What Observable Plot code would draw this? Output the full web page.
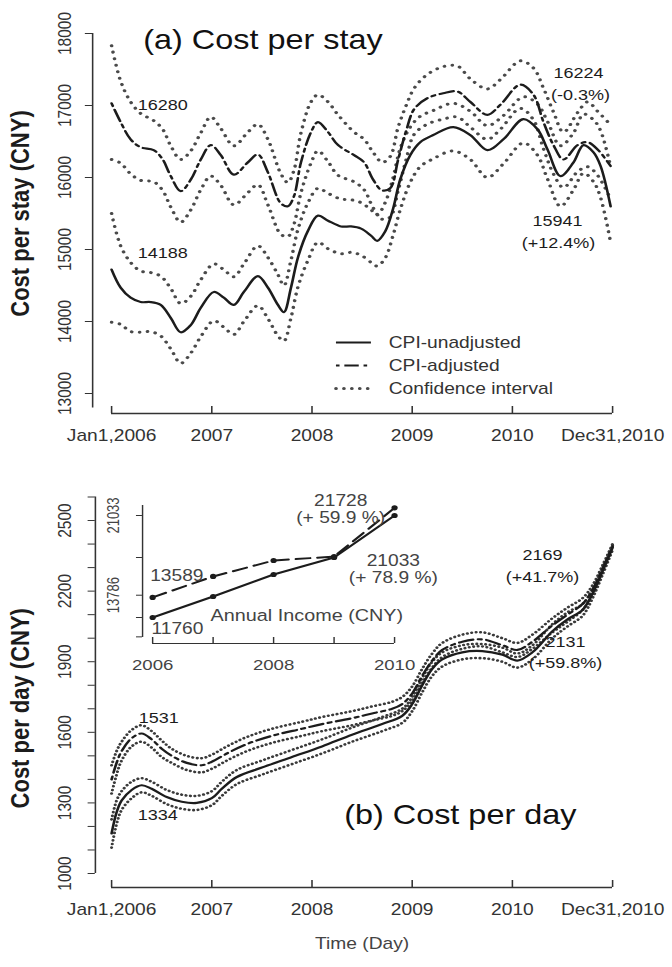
<!DOCTYPE html>
<html><head><meta charset="utf-8">
<script src="https://cdn.jsdelivr.net/npm/d3@7"></script>
<script src="https://cdn.jsdelivr.net/npm/@observablehq/plot@0.6"></script>
<style>
html,body{margin:0;padding:0;background:#fff;}
#chart{position:relative;width:672px;height:967px;overflow:hidden;background:#fff;}
</style></head><body><div id="chart"></div>
<script>
const FONT = '"Liberation Sans", Arial, Helvetica, sans-serif';
const SX = 1.2, W = 560, H = 967;
const INK = "#1c1c1c", AX = "#333";

// ---- shared x axis ----
const yearTicks = [2006, 2007, 2008, 2009, 2010, 2011];
const yearLabels = ["Jan1,2006", "2007", "2008", "2009", "2010", "Dec31,2010"];
const legendLabels = ["CPI-unadjusted", "CPI-adjusted", "Confidence interval"];

// ---- (a) Cost per stay ----
const stayTicks = [13000, 14000, 15000, 16000, 17000, 18000];
const adjStayT = [2006.00,2006.09,2006.19,2006.29,2006.42,2006.51,2006.59,2006.69,2006.79,2006.89,2006.99,
  2007.09,2007.22,2007.36,2007.46,2007.56,2007.69,2007.76,2007.82,2007.89,2007.99,
  2008.06,2008.16,2008.26,2008.42,2008.52,2008.61,2008.70,2008.78,2008.86,2008.94,
  2009.02,2009.15,2009.31,2009.45,2009.58,2009.75,2009.88,
  2010.08,2010.21,2010.31,2010.41,2010.51,2010.65,2010.75,2010.85,2010.98];
const adjStay = [17030,16770,16530,16420,16380,16250,16020,15810,15970,16250,16450,
  16310,16040,16210,16320,16070,15640,15600,15740,16210,16630,
  16770,16630,16450,16310,16210,15970,15820,15850,16250,16650,
  16950,17100,17170,17195,17050,16870,17010,
  17290,17150,16770,16450,16250,16450,16490,16390,16160];
const adjStayHi = [17830,17340,17050,16890,16790,16670,16440,16250,16370,16620,16840,
  16680,16440,16630,16740,16530,16050,15930,16100,16620,17050,
  17150,17050,16870,16630,16530,16350,16210,16290,16700,17000,
  17240,17430,17540,17550,17370,17230,17360,
  17620,17520,17240,16910,16630,16900,17050,16920,16730];
const adjStayLo = [16250,16200,16050,15960,15940,15820,15590,15380,15550,15830,16020,
  15890,15620,15790,15900,15620,15210,15180,15350,15790,16200,
  16370,16220,16030,15940,15830,15580,15420,15450,15820,16250,
  16600,16740,16810,16840,16700,16530,16670,
  16960,16800,16400,16050,15860,16080,16150,16030,15700];
const rawStayT = [2006.00,2006.09,2006.19,2006.29,2006.39,2006.49,2006.59,2006.69,2006.79,2006.89,
  2007.02,2007.12,2007.22,2007.32,2007.46,2007.56,2007.66,2007.72,2007.79,2007.86,2007.96,
  2008.06,2008.16,2008.29,2008.39,2008.49,2008.59,2008.65,2008.73,2008.81,2008.88,2008.98,
  2009.08,2009.21,2009.41,2009.58,2009.75,2009.91,
  2010.11,2010.25,2010.35,2010.48,2010.61,2010.71,2010.81,2010.88,2010.98];
const rawStay = [14720,14470,14330,14270,14270,14230,14050,13850,13950,14190,
  14410,14330,14230,14410,14630,14470,14230,14130,14470,14890,15260,
  15470,15400,15320,15320,15290,15190,15120,15250,15570,15970,16310,
  16490,16590,16700,16590,16380,16530,
  16810,16670,16390,16020,16210,16450,16350,16160,15600];
const rawStayHi = [15500,15050,14820,14700,14680,14630,14460,14250,14350,14580,
  14800,14720,14620,14800,15050,14890,14650,14500,14850,15280,15650,
  15850,15780,15700,15690,15650,15550,15480,15650,16000,16400,16700,
  16850,16930,17030,16920,16720,16860,
  17120,17020,16780,16440,16620,16880,16800,16650,16150];
const rawStayLo = [13990,13960,13860,13850,13860,13800,13620,13420,13560,13790,
  14010,13920,13820,14000,14220,14040,13800,13730,14050,14480,14850,
  15100,15010,14940,14960,14920,14820,14770,14880,15200,15550,15930,
  16150,16260,16370,16250,16000,16190,
  16480,16310,15980,15600,15830,16060,15940,15720,15100];

// ---- (b) Cost per day ----
const dayTicks = [1000,1100,1200,1300,1400,1500,1600,1700,1800,1900,2000,2100,2200,2300,2400,2500,2600];
const dayTickLabels = [1000, 1300, 1600, 1900, 2200, 2500];
const adjDayT = [2006,2006.05,2006.1,2006.2,2006.3,2006.4,2006.5,2006.6,2006.75,2006.9,2007,2007.15,2007.35,2007.6,2007.9,
  2008.1,2008.4,2008.6,2008.8,2008.9,2009,2009.1,2009.2,2009.3,2009.5,2009.7,2009.9,2010.05,2010.2,2010.4,2010.55,2010.7,2010.8,2010.9,2011];
const adjDay = [1400,1470,1520,1575,1595,1570,1530,1500,1470,1460,1475,1510,1550,1585,1615,1635,1660,1680,1700,1720,
  1765,1840,1905,1950,1985,1995,1970,1950,1985,2055,2100,2145,2205,2295,2390];
const adjDayHi = [1460,1520,1560,1610,1630,1605,1565,1530,1500,1490,1505,1540,1580,1615,1645,1665,1690,1710,1730,1750,
  1795,1870,1935,1980,2015,2025,2000,1980,2015,2085,2130,2170,2225,2310,2400];
const adjDayLo = [1340,1420,1480,1540,1560,1535,1495,1470,1440,1430,1445,1480,1520,1555,1585,1605,1630,1650,1670,1690,
  1735,1810,1875,1920,1955,1965,1940,1920,1955,2025,2070,2120,2185,2280,2380];
const rawDayT = [2006,2006.05,2006.1,2006.2,2006.3,2006.4,2006.55,2006.7,2006.85,2007,2007.1,2007.25,2007.5,2007.8,
  2008.1,2008.4,2008.7,2008.9,2009,2009.1,2009.2,2009.3,2009.5,2009.7,2009.9,2010.05,2010.2,2010.4,2010.55,2010.7,2010.8,2010.9,2011];
const rawDay = [1170,1260,1310,1355,1375,1360,1325,1305,1300,1320,1360,1410,1450,1495,1540,1590,1635,1670,1720,1800,
  1870,1910,1940,1945,1930,1905,1940,2030,2080,2120,2190,2285,2385];
const rawDayHi = [1230,1310,1350,1390,1405,1390,1355,1335,1330,1350,1390,1440,1480,1525,1570,1620,1665,1700,1750,1830,
  1900,1940,1970,1975,1960,1935,1970,2060,2110,2145,2210,2300,2395];
const rawDayLo = [1110,1210,1270,1320,1345,1330,1295,1275,1270,1290,1330,1380,1420,1465,1510,1560,1605,1640,1690,1770,
  1840,1880,1910,1915,1900,1875,1910,2000,2050,2095,2170,2270,2375];

// ---- inset: annual income ----
const incomeYears = [2006, 2007, 2008, 2009, 2010];
const incomeYearLabels = [2006, 2008, 2010];
const incomeA = [13589, 15490, 16940, 17300, 21728];
const incomeB = [11760, 13670, 15670, 17215, 21033];
const incomeTicks = [10000, 11760, 13786, 17215, 21033];
const incomeTickLabels = [13786, 21033];

// ---- helpers ----
const zip = (T, V) => T.map((t, i) => ({t, v: V[i]}));
const solid = {stroke: INK, strokeWidth: 2.2};
const dashed = {stroke: INK, strokeWidth: 2.2, strokeDasharray: "3,4,12,4"};
const dotted = {stroke: "#4a4a4a", strokeWidth: 3, strokeDasharray: "0.1,6.5", strokeLinecap: "round"};
const dottedDense = {stroke: "#3a3a3a", strokeWidth: 2.6, strokeDasharray: "0.1,3.6", strokeLinecap: "round"};
const line = (T, V, st) => Plot.line(zip(T, V), {x: "t", y: "v", curve: "catmull-rom", ...st});
const label = (s, x, y, o = {}) => Plot.text([s], {x: [x], y: [y], text: [s], fontSize: 15, fill: INK, textAnchor: "middle", lineAnchor: "middle", ...o});
const ctr = {textAnchor: "middle", lineAnchor: "middle"};

function place(svg) {
  const w = +svg.getAttribute("width"), h = +svg.getAttribute("height");
  svg.setAttribute("viewBox", `0 0 ${w} ${h}`);
  svg.setAttribute("preserveAspectRatio", "none");
  svg.setAttribute("width", w * SX);
  svg.setAttribute("style", `position:absolute;left:0;top:0;width:${w * SX}px;height:${h}px;max-width:none;background:transparent;overflow:visible;font-family:${FONT};`);
  document.getElementById("chart").appendChild(svg);
}

// ---- panel (a) ----
place(Plot.plot({
  width: W, height: H, marginLeft: 92.5, marginRight: 50, marginTop: 33, marginBottom: 554,
  x: {domain: [2006, 2011], axis: null},
  y: {domain: [12722, 18000]},
  marks: [
    Plot.ruleX([2006], {y1: 12800, y2: 18000, dx: -15.8, stroke: AX, strokeWidth: 1.3}),
    Plot.axisY({ticks: stayTicks, tickSize: 6, tickFormat: () => "", dx: -15.8, label: null, stroke: AX}),
    Plot.text(stayTicks, {y: d => d, text: d => String(d), frameAnchor: "left", dx: -38.5, rotate: -90, fontSize: 15.5, fill: AX, ...ctr}),
    Plot.ruleY([12722], {x1: 2006, x2: 2011, stroke: AX, strokeWidth: 1.3}),
    Plot.tickX(yearTicks, {x: d => d, insetTop: 373, stroke: AX, strokeWidth: 1.3}),
    Plot.text(yearTicks, {x: d => d, text: (d, i) => yearLabels[i], frameAnchor: "bottom", dy: 22, fontSize: 16, fill: AX, ...ctr}),
    Plot.text(["Cost per stay (CNY)"], {text: d => d, frameAnchor: "left", dx: -75.8, dy: -10, rotate: -90, fontSize: 22, fontWeight: "bold", fill: INK, ...ctr}),
    line(adjStayT, adjStayHi, dotted),
    line(adjStayT, adjStayLo, dotted),
    line(rawStayT, rawStayHi, dotted),
    line(rawStayT, rawStayLo, dotted),
    line(adjStayT, adjStay, dashed),
    line(rawStayT, rawStay, solid),
    label("(a) Cost per stay", 2007.51, 17903, {fontSize: 27, fill: "#111"}),
    label("16280", 2006.51, 17000),
    label("14188", 2006.51, 14944),
    label("16224", 2010.66, 17444),
    label("(-0.3%)", 2010.68, 17139),
    label("15941", 2010.45, 15389),
    label("(+12.4%)", 2010.46, 15083),
    Plot.ruleY([13708], {x1: 2008.245, x2: 2008.594, ...solid}),
    Plot.ruleY([13389], {x1: 2008.245, x2: 2008.594, ...dashed}),
    Plot.ruleY([13069], {x1: 2008.245, x2: 2008.594, ...dotted}),
    Plot.text(legendLabels, {x: 2008.766, y: (d, i) => [13708, 13389, 13069][i], text: d => d, textAnchor: "start", lineAnchor: "middle", fontSize: 16, fill: AX})
  ]
}));

// ---- panel (b) ----
place(Plot.plot({
  width: W, height: H, marginLeft: 92.5, marginRight: 50, marginTop: 496.5, marginBottom: 80,
  x: {domain: [2006, 2011], axis: null},
  y: {domain: [940.5, 2600]},
  marks: [
    Plot.ruleX([2006], {y1: 1000, y2: 2600, dx: -13.5, stroke: AX, strokeWidth: 1.3}),
    Plot.axisY({ticks: dayTicks, tickSize: 6, tickFormat: () => "", dx: -13.5, label: null, stroke: AX}),
    Plot.text(dayTickLabels, {y: d => d, text: d => String(d), frameAnchor: "left", dx: -38.5, rotate: -90, fontSize: 15.5, fill: AX, ...ctr}),
    Plot.ruleY([940.5], {x1: 2006, x2: 2011, stroke: AX, strokeWidth: 1.3}),
    Plot.tickX(yearTicks, {x: d => d, insetTop: 383.5, stroke: AX, strokeWidth: 1.3}),
    Plot.text(yearTicks, {x: d => d, text: (d, i) => yearLabels[i], frameAnchor: "bottom", dy: 22, fontSize: 16, fill: AX, ...ctr}),
    Plot.text(["Time (Day)"], {text: d => d, frameAnchor: "bottom", dy: 56, fontSize: 16, fill: "#444", ...ctr}),
    Plot.text(["Cost per day (CNY)"], {text: d => d, frameAnchor: "left", dx: -75.8, dy: 16, rotate: -90, fontSize: 22, fontWeight: "bold", fill: INK, ...ctr}),
    line(adjDayT, adjDayHi, dottedDense),
    line(adjDayT, adjDayLo, dottedDense),
    line(rawDayT, rawDayHi, dottedDense),
    line(rawDayT, rawDayLo, dottedDense),
    line(adjDayT, adjDay, dashed),
    line(rawDayT, rawDay, solid),
    label("(b) Cost per day", 2009.48, 1246, {fontSize: 27, fill: "#111"}),
    label("1531", 2006.47, 1658),
    label("1334", 2006.46, 1246),
    label("2169", 2010.30, 2351),
    label("(+41.7%)", 2010.30, 2258),
    label("2131", 2010.53, 1981),
    label("(+59.8%)", 2010.53, 1892)
  ]
}));

// ---- inset ----
place(Plot.plot({
  width: W, height: H, marginLeft: 126.7, marginRight: 231.7, marginTop: 505, marginBottom: 324,
  x: {domain: [2006, 2010], axis: null},
  y: {domain: [9396, 21942]},
  marks: [
    Plot.ruleX([2006], {y1: 9941, y2: 21942, dx: -8.4, stroke: AX, strokeWidth: 1.2}),
    Plot.axisY({ticks: incomeTicks, tickSize: 5, tickFormat: () => "", dx: -8.4, label: null, stroke: AX}),
    Plot.text(incomeTickLabels, {y: d => d, text: d => String(d), frameAnchor: "left", dx: -32.5, rotate: -90, fontSize: 13, fill: "#444", ...ctr}),
    Plot.ruleY([9396], {x1: 2006, x2: 2010, stroke: AX, strokeWidth: 1.2}),
    Plot.tickX(incomeYears, {x: d => d, insetTop: 132, stroke: AX, strokeWidth: 1.2}),
    Plot.text(incomeYearLabels, {x: d => d, text: d => String(d), frameAnchor: "bottom", dy: 22, fontSize: 15.5, fill: "#444", ...ctr}),
    Plot.line(zip(incomeYears, incomeA), {x: "t", y: "v", stroke: INK, strokeWidth: 2, strokeDasharray: "12,6"}),
    Plot.line(zip(incomeYears, incomeB), {x: "t", y: "v", stroke: INK, strokeWidth: 2}),
    Plot.dot(zip(incomeYears, incomeA), {x: "t", y: "v", r: 2.6, fill: INK}),
    Plot.dot(zip(incomeYears, incomeB), {x: "t", y: "v", r: 2.6, fill: INK}),
    label("13589", 2006.40, 15578, {fontSize: 16, fill: "#444"}),
    label("11760", 2006.41, 10760, {fontSize: 16, fill: "#444"}),
    label("Annual Income (CNY)", 2008.55, 11942, {fontSize: 16.5, fill: "#444"}),
    label("21728", 2009.11, 22396, {fontSize: 16, fill: "#444"}),
    label("(+ 59.9 %)", 2009.11, 20851, {fontSize: 16, fill: "#444"}),
    label("21033", 2009.98, 16942, {fontSize: 16, fill: "#444"}),
    label("(+ 78.9 %)", 2009.98, 15396, {fontSize: 16, fill: "#444"})
  ]
}));
</script></body></html>
